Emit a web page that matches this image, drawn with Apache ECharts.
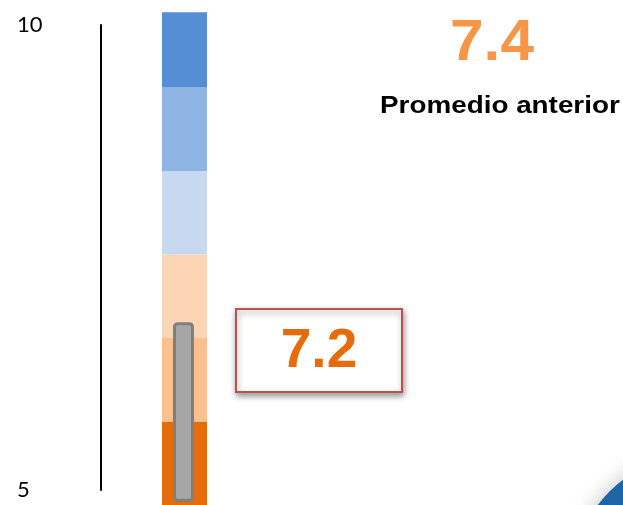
<!DOCTYPE html>
<html>
<head>
<meta charset="utf-8">
<script src="https://cdn.jsdelivr.net/npm/echarts@6/dist/echarts.min.js"></script>
<style>
  html, body { margin: 0; padding: 0; background: #ffffff; }
  #chart { width: 623px; height: 505px; }
</style>
</head>
<body>
<div id="chart"></div>
<script>
// ---- data ----
var axisTicks = [5, 10];                         // labels on the left scale
var barCategory = ['Nivel'];
var segLower = [4, 5, 6, 7, 8, 9];               // gauge band lower bounds (bar scale)
var segUpper = [5, 6, 7, 8, 9, 9.9];             // gauge band upper bounds (bar scale)
var indicatorRange = [4.04, 6.19];               // grey marker extent (bar scale)
var currentValue = 7.2;
var previousValue = 7.4;
var previousLabel = 'Promedio anterior';

// ---- styles ----
var segColors = ['#E46C0A', '#FAC090', '#FCD5B5', '#C6D9F1', '#8EB4E3', '#558ED5'];

var chart = echarts.init(document.getElementById('chart'), null, { renderer: 'canvas' });

function renderSeg(params, api) {
  var c = api.value(0);
  var lo = api.coord([c, api.value(1)]);
  var hi = api.coord([c, api.value(2)]);
  var w = api.size([1, 0])[0];
  return {
    type: 'rect',
    shape: { x: lo[0] - w / 2, y: hi[1], width: w, height: lo[1] - hi[1] },
    style: { fill: segColors[params.dataIndex] }
  };
}

function renderIndicator(params, api) {
  var c = api.value(0);
  var lo = api.coord([c, api.value(1)]);
  var hi = api.coord([c, api.value(2)]);
  var lw = 3, outerW = 21;
  return {
    type: 'rect',
    shape: {
      x: lo[0] - outerW / 2 - 1 + lw / 2,
      y: hi[1] + lw / 2,
      width: outerW - lw,
      height: lo[1] - hi[1] - lw,
      r: 3
    },
    style: { fill: '#A6A6A6', stroke: '#7F7F7F', lineWidth: lw }
  };
}

var option = {
  animation: false,
  backgroundColor: '#ffffff',
  grid: [
    { left: 101, top: 25, width: 1, height: 465, containLabel: false },
    { left: 162, top: 4, width: 45, height: 501, containLabel: false }
  ],
  xAxis: [
    { gridIndex: 0, type: 'category', data: [''], show: false },
    { gridIndex: 1, type: 'category', data: barCategory, show: false }
  ],
  yAxis: [
    {
      gridIndex: 0, type: 'value', min: axisTicks[0], max: axisTicks[1],
      interval: axisTicks[1] - axisTicks[0],
      axisLine: { show: true, lineStyle: { color: '#000000', width: 2 } },
      axisTick: { show: false },
      splitLine: { show: false },
      axisLabel: {
        show: true, margin: 84, align: 'left',
        fontFamily: 'Lato', fontSize: 22, color: '#000000',
        padding: [0, 0, 7, 0]
      }
    },
    {
      gridIndex: 1, type: 'value', min: 4, max: 10, show: false,
      splitLine: { show: false }
    }
  ],
  series: [
    {
      type: 'custom', xAxisIndex: 1, yAxisIndex: 1,
      renderItem: renderSeg,
      data: segLower.map(function (lo, i) { return [0, lo, segUpper[i]]; }),
      silent: true, clip: false
    },
    {
      type: 'custom', xAxisIndex: 1, yAxisIndex: 1,
      renderItem: renderIndicator,
      data: [[0, indicatorRange[0], indicatorRange[1]]],
      silent: true, clip: false, z: 3
    }
  ],
  graphic: [
    {
      type: 'circle', silent: true, z: 1,
      shape: { cx: 700, cy: 582, r: 128 },
      style: {
        fill: new echarts.graphic.LinearGradient(0, 0, 1, 1, [
          { offset: 0, color: '#1F6AAE' },
          { offset: 1, color: '#154E85' }
        ]),
        shadowBlur: 18, shadowColor: 'rgba(0,0,0,0.18)', shadowOffsetX: -2, shadowOffsetY: -2
      }
    },
    {
      type: 'rect', silent: true, z: 5,
      shape: { x: 236, y: 309, width: 166, height: 83 },
      style: {
        fill: '#ffffff', stroke: '#C0504D', lineWidth: 2,
        shadowBlur: 6, shadowColor: 'rgba(0,0,0,0.4)', shadowOffsetX: 1, shadowOffsetY: 3
      }
    },
    {
      type: 'text', silent: true, z: 6,
      x: 319, y: 352,
      style: {
        text: String(currentValue),
        font: 'bold 55px "Liberation Sans", Arial, sans-serif',
        fill: '#E46C0A', textAlign: 'center', textVerticalAlign: 'middle'
      }
    },
    {
      type: 'text', silent: true, z: 6,
      x: 492, y: 44, scaleX: 1.04,
      style: {
        text: String(previousValue),
        font: 'bold 58px "Liberation Sans", Arial, sans-serif',
        fill: '#F79646', textAlign: 'center', textVerticalAlign: 'middle'
      }
    },
    {
      type: 'text', silent: true, z: 6,
      x: 380, y: 106, scaleX: 1.16,
      style: {
        text: previousLabel,
        font: 'bold 24px "Liberation Sans", Arial, sans-serif',
        fill: '#000000', textAlign: 'left', textVerticalAlign: 'middle'
      }
    }
  ]
};

chart.setOption(option);
</script>
</body>
</html>
